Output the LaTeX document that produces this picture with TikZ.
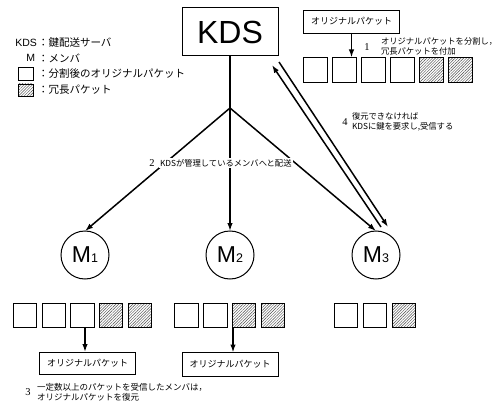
\documentclass[tikz,border=0pt]{standalone}
\usepackage{fontspec}
\setmainfont{Noto Sans CJK JP}
\newfontfamily\latinsans{Liberation Sans}
\newfontfamily\numserif{Liberation Serif}
\usetikzlibrary{arrows.meta,patterns.meta}
\begin{document}
\begin{tikzpicture}[x=1pt,y=-1pt,
  every node/.style={inner sep=0pt, outer sep=0pt},
  arr/.style={line width=1.5pt, -{Latex[length=8pt,width=5.5pt]}},
  pkt/.style={draw, line width=0.8pt, minimum width=24pt, minimum height=25pt},
  hpkt/.style={pkt, pattern={Lines[angle=45,distance=2pt,line width=0.45pt]}, pattern color=black!70},
  member/.style={draw, circle, line width=1pt, minimum size=48pt},
  obox/.style={draw, line width=0.9pt, minimum width=96pt, minimum height=23pt, font=\fontsize{9}{9}\selectfont},
  small/.style={font=\fontsize{8.3}{10}\selectfont, align=left, anchor=west},
  num/.style={font=\numserif\fontsize{10.5}{10.5}\selectfont},
  leg/.style={font=\fontsize{10.5}{10.5}\selectfont, anchor=west},
  mlabel/.style={font=\latinsans\fontsize{23}{23}\selectfont},
]
\useasboundingbox (0,0) rectangle (497,403);

% legend
\node[font=\latinsans\fontsize{10.5}{10.5}\selectfont, anchor=east] (lk) at (37,43) {KDS};
\node[leg] (lkc) at (38,43) {：鍵配送サーバ};
\node[font=\latinsans\fontsize{10.5}{10.5}\selectfont, anchor=east] (lm) at (35,58) {M};
\node[leg] (lmc) at (38,58) {：メンバ};
\node[pkt, minimum width=15pt, minimum height=13pt] (ls) at (25.5,73.5) {};
\node[leg] (lsc) at (38,73.5) {：分割後のオリジナルパケット};
\node[hpkt, minimum width=15pt, minimum height=12pt] (lh) at (25.5,90) {};
\node[leg] (lhc) at (38,90) {：冗長パケット};

% KDS
\node[draw, line width=1pt, minimum width=96pt, minimum height=48pt,
      font=\latinsans\fontsize{32}{32}\selectfont] (KDS) at (230,32) {KDS};
\coordinate (J) at (230,108);

% members
\node[member, mlabel] (M1) at (85,255) {M\fontsize{12.5}{12.5}\selectfont 1};
\node[member, mlabel] (M2) at (230,255) {M\fontsize{12.5}{12.5}\selectfont 2};
\node[member, mlabel] (M3) at (376,255) {M\fontsize{12.5}{12.5}\selectfont 3};

\draw[line width=1.5pt] (KDS.south) -- (J);
\draw[arr] (J) -- (M1.north);
\draw[arr] (J) -- (M2.north);
\draw[arr] (J) -- (M3.north);
\draw[arr] ([xshift=5pt,yshift=4pt]M3.north) -- ([xshift=-6pt,yshift=-9pt]KDS.south east);
\draw[arr] ([xshift=1pt,yshift=-6pt]KDS.south east) -- ([xshift=12pt,yshift=4pt]M3.north);

% label 2
\node[num] (n2) at (152,163) {2};
\node[small, fill=white, inner sep=1pt] (s2) at (159,163) {KDSが管理しているメンバへと配送};

% label 4
\node[num] (n4) at (345,122) {4};
\node[small, font=\fontsize{8.3}{10}\selectfont] (s4) at (352,121.5) {復元できなければ\\KDSに鍵を要求し,受信する};

% top packet splitting
\node[obox] (O) at (351.5,21.5) {オリジナルパケット};
\foreach \i/\s in {1/pkt,2/pkt,3/pkt,4/pkt,5/hpkt,6/hpkt}{
  \node[\s] (t\i) at ({315.5+29*(\i-1)},70) {};
}
\draw[arr] (O.south) -- (O.south |- t2.north);
\node[num] (n1) at (367,47) {1};
\node[small, font=\fontsize{8.3}{9.5}\selectfont] (s1) at (381,46.5) {オリジナルパケットを分割し，\\冗長パケットを付加};

% bottom packets
\foreach \i/\s in {1/pkt,2/pkt,3/pkt,4/hpkt,5/hpkt}{
  \node[\s, minimum width=23.5pt, minimum height=24pt] (b1\i) at ({25+28.7*(\i-1)},315) {};
}
\foreach \i/\s in {1/pkt,2/pkt,3/hpkt,4/hpkt}{
  \node[\s, minimum width=23.5pt, minimum height=24pt] (b2\i) at ({186.5+28.8*(\i-1)},315) {};
}
\foreach \i/\s in {1/pkt,2/pkt,3/hpkt}{
  \node[\s, minimum width=23.5pt, minimum height=24pt] (b3\i) at ({346+29*(\i-1)},315) {};
}

\node[obox, minimum height=22pt] (P1) at (87.5,363) {オリジナルパケット};
\node[obox, minimum height=24pt] (P2) at (230,364.5) {オリジナルパケット};
\draw[arr] ([xshift=-2.5pt]P1.north |- b13.south) -- ([xshift=-2.5pt]P1.north);
\draw[arr] ([xshift=3pt]P2.north |- b22.south) -- ([xshift=3pt]P2.north);

% label 3
\node[num] (n3) at (28,392) {3};
\node[small, font=\fontsize{8.5}{9.5}\selectfont] (s3) at (37,392.5) {一定数以上のパケットを受信したメンバは，\\オリジナルパケットを復元};
\end{tikzpicture}
\end{document}
